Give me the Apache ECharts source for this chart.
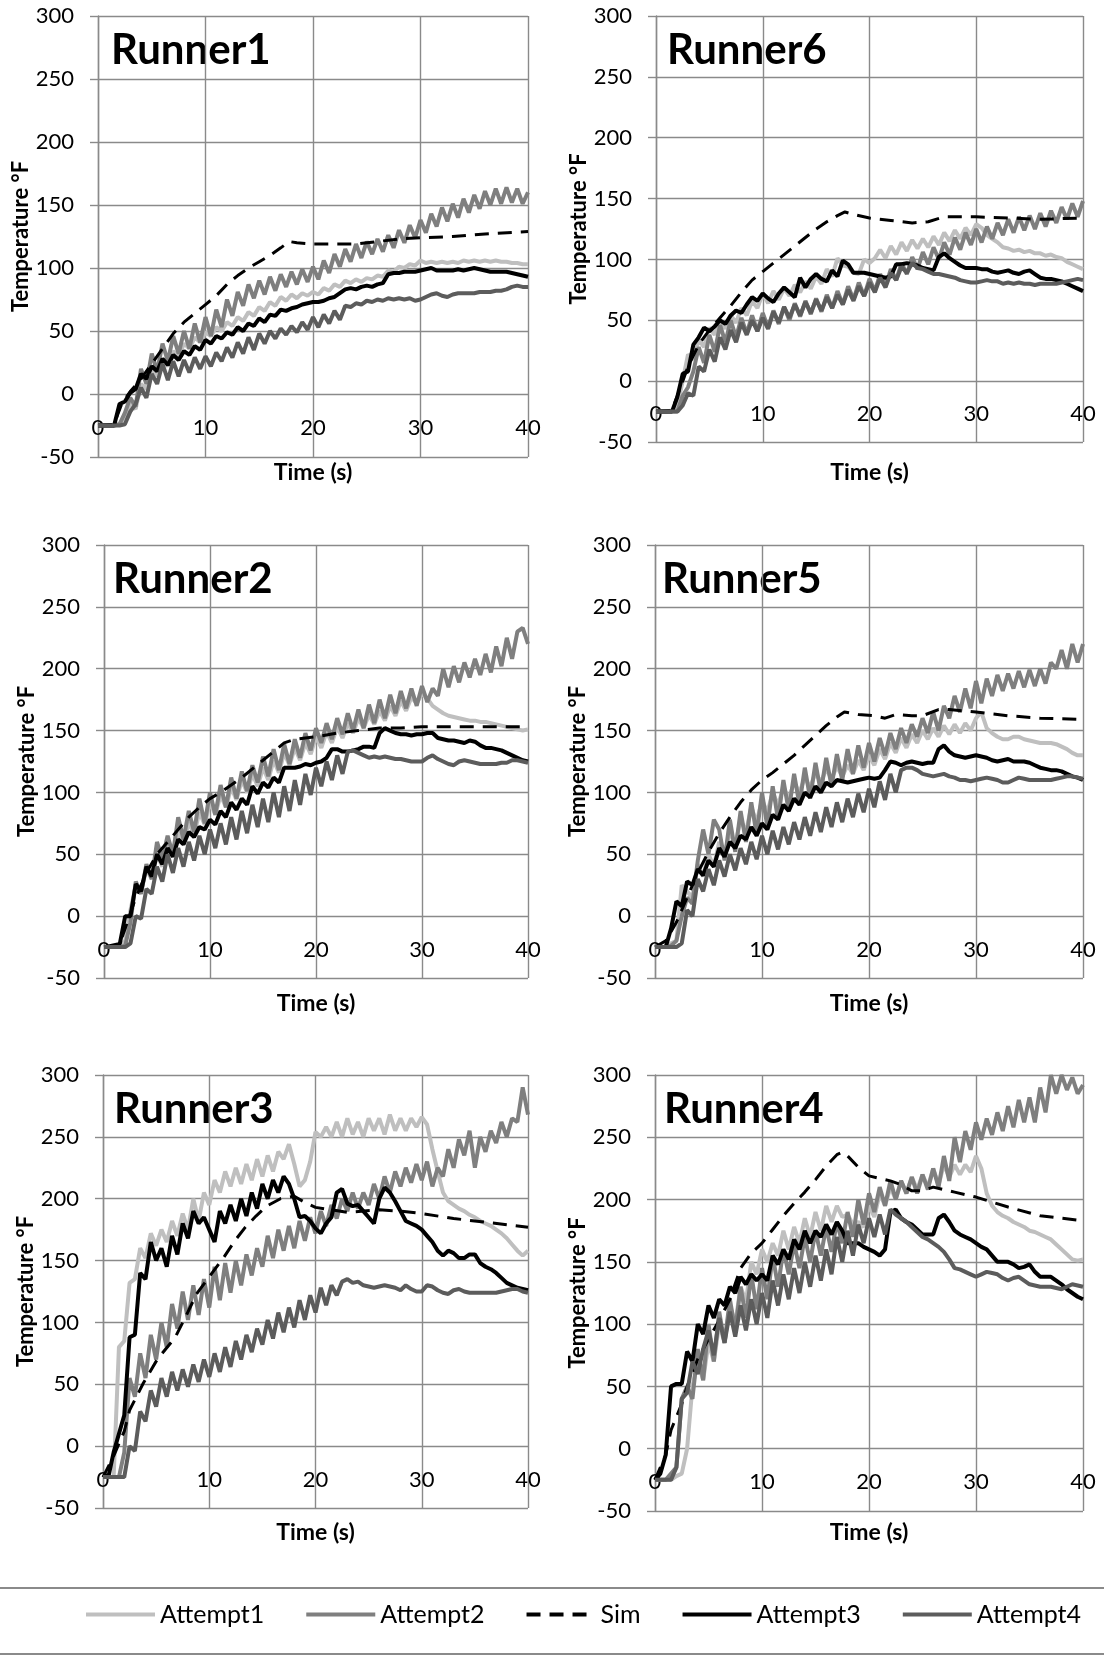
<!DOCTYPE html>
<html>
<head>
<meta charset="utf-8">
<title>Runner temperatures</title>
<script src="https://cdn.jsdelivr.net/npm/echarts@6/dist/echarts.min.js"></script>
<style>
  html, body { margin: 0; padding: 0; background: #ffffff; }
  #chart { width: 1104px; height: 1656px; }
</style>
</head>
<body>
<div id="chart"></div>
<script>
// sample times (s) shared by the measured attempts
const TIME = [
  0, 0.5, 1, 1.5, 2, 2.5, 3, 3.5, 4, 4.5,
  5, 5.5, 6, 6.5, 7, 7.5, 8, 8.5, 9, 9.5,
  10, 10.5, 11, 11.5, 12, 12.5, 13, 13.5, 14, 14.5,
  15, 15.5, 16, 16.5, 17, 17.5, 18, 18.5, 19, 19.5,
  20, 20.5, 21, 21.5, 22, 22.5, 23, 23.5, 24, 24.5,
  25, 25.5, 26, 26.5, 27, 27.5, 28, 28.5, 29, 29.5,
  30, 30.5, 31, 31.5, 32, 32.5, 33, 33.5, 34, 34.5,
  35, 35.5, 36, 36.5, 37, 37.5, 38, 38.5, 39, 39.5,
  40
];
const X_TICKS = [0, 10, 20, 30, 40];
const Y_TICKS = [-50, 0, 50, 100, 150, 200, 250, 300];
const SERIES_NAMES = ["Attempt1", "Attempt2", "Sim", "Attempt3", "Attempt4"];
const TITLES = ["Runner1", "Runner6", "Runner2", "Runner5", "Runner3", "Runner4"];

// Runner1
const r1_a1 = [
  -25, -25, -25, -25, -24, -18, -8, -12, 8, 4,
  20, 14, 28, 22, 34, 30, 40, 36, 45, 41,
  49, 46, 53, 50, 57, 54, 61, 58, 65, 62,
  69, 66, 73, 70, 77, 74, 79, 76, 80, 78,
  81, 79, 84, 82, 87, 85, 90, 88, 91, 89,
  92, 91, 94, 93, 98, 97, 101, 100, 103, 102,
  106, 104, 105, 104, 105, 104, 105, 104, 106, 105,
  106, 105, 106, 105, 106, 105, 105, 104, 104, 103,
  103
];
const r1_a2 = [
  -25, -25, -25, -25, -24, -15, -3, -10, 20, 8,
  32, 18, 40, 26, 46, 32, 50, 36, 56, 41,
  61, 46, 67, 53, 75, 62, 81, 70, 87, 76,
  90, 79, 93, 82, 95, 85, 97, 87, 99, 89,
  101, 91, 106, 96, 111, 101, 115, 105, 119, 108,
  121, 111, 123, 113, 126, 116, 130, 120, 134, 124,
  138, 128, 143, 133, 148, 137, 151, 140, 155, 144,
  158, 147, 161, 150, 163, 151, 164, 152, 163, 151,
  160
];
const r1_sim = [
  [0, -25], [1.5, -24], [2.2, -8], [3, 2], [4, 12], [5, 24], [6, 36], [7, 48],
  [8, 57], [9, 64], [10, 71], [11, 78], [12, 87], [13, 94], [14, 100], [15, 105],
  [16, 110], [17, 116], [17.8, 121], [18.5, 120], [20, 119], [22, 119], [24, 119],
  [26, 121], [28, 123], [30, 124], [33, 125], [36, 127], [40, 129]
];
const r1_a3 = [
  -25, -25, -25, -25, -8, -6, 1, 4, 16, 12,
  22, 18, 28, 23, 31, 27, 34, 31, 38, 35,
  43, 40, 46, 44, 49, 47, 53, 50, 56, 54,
  60, 57, 63, 62, 67, 66, 68, 69, 71, 72,
  73, 73, 74, 76, 77, 80, 83, 84, 83, 85,
  86, 85, 87, 88, 95, 96, 96, 97, 97, 97,
  98, 99, 100, 98, 98, 98, 98, 99, 98, 99,
  100, 99, 98, 97, 97, 97, 97, 96, 95, 94,
  93
];
const r1_a4 = [
  -25, -25, -25, -25, -25, -24, -14, -8, 5, -3,
  16, 8, 24, 11, 26, 14, 27, 17, 29, 20,
  30, 22, 33, 26, 37, 29, 41, 32, 45, 35,
  48, 40, 50, 44, 52, 47, 54, 49, 57, 51,
  61, 53, 63, 56, 66, 59, 70, 69, 72, 71,
  74, 73, 75, 74, 76, 75, 76, 75, 76, 74,
  75, 77, 79, 80, 78, 77, 79, 80, 80, 80,
  80, 81, 81, 81, 82, 82, 83, 85, 86, 85,
  85
];

// Runner6
const r6_a1 = [
  -25, -25, -25, -24, -20, 0, 22, 18, 34, 28,
  44, 38, 50, 43, 54, 48, 60, 54, 66, 60,
  72, 64, 74, 67, 76, 70, 79, 73, 82, 76,
  86, 80, 92, 86, 101, 95, 94, 89, 88, 100,
  97, 101, 108, 101, 111, 104, 114, 107, 116, 109,
  117, 110, 119, 112, 122, 115, 124, 117, 126, 120,
  129, 126, 120, 117, 114, 110, 109, 107, 108, 106,
  107, 105, 105, 103, 104, 102, 101, 98, 96, 94,
  92
];
const r6_a2 = [
  -25, -25, -25, -25, -25, -12, -5, 8, 28, 15,
  38, 24, 46, 32, 50, 36, 52, 39, 54, 41,
  56, 44, 58, 47, 61, 50, 64, 53, 66, 55,
  68, 57, 71, 60, 74, 63, 78, 67, 81, 70,
  84, 74, 88, 78, 92, 83, 97, 88, 102, 92,
  106, 96, 110, 100, 114, 104, 118, 108, 122, 112,
  125, 114, 127, 117, 130, 120, 133, 122, 135, 124,
  136, 125, 138, 127, 140, 130, 143, 133, 146, 135,
  148
];
const r6_sim = [
  [0, -25], [1.5, -24], [2, -12], [2.5, 0], [3, 12], [4, 30], [5, 42], [6, 52],
  [7, 62], [8, 73], [9, 83], [10, 90], [11, 97], [12, 104], [13, 111], [14, 118],
  [15, 125], [16, 131], [17, 136], [17.7, 139], [18.5, 137], [20, 134], [22, 132],
  [24, 130], [25.5, 131], [27, 135], [30, 135], [33, 134], [36, 133], [40, 134]
];
const r6_a3 = [
  -25, -25, -25, -25, -13, 6, 8, 30, 36, 44,
  41, 45, 50, 47, 54, 58, 56, 63, 69, 66,
  72, 68, 65, 72, 77, 73, 69, 85, 77, 84,
  88, 84, 82, 91, 86, 99, 96, 89, 89, 89,
  88, 87, 86, 85, 86, 96, 96, 97, 96, 95,
  93, 92, 91, 102, 105, 101, 98, 95, 93, 93,
  93, 92, 92, 90, 89, 90, 91, 89, 88, 90,
  91, 88, 85, 84, 84, 83, 82, 80, 78, 76,
  74
];
const r6_a4 = [
  -25, -25, -25, -25, -25, -20, -10, -12, 12, 8,
  26, 16, 36, 26, 42, 32, 48, 38, 50, 41,
  52, 43, 57, 48, 61, 52, 63, 54, 65, 56,
  67, 58, 69, 60, 71, 63, 75, 66, 78, 70,
  81, 73, 85, 77, 89, 83, 94, 89, 97, 93,
  92, 90, 88, 88, 87, 86, 85, 83, 82, 81,
  81, 82, 83, 82, 82, 80, 81, 80, 81, 80,
  80, 79, 80, 80, 80, 80, 81, 82, 83, 84,
  83
];

// Runner2
const r2_a1 = [
  -25, -25, -25, -25, -20, 5, 25, 20, 38, 30,
  50, 40, 58, 48, 68, 58, 76, 66, 84, 74,
  92, 82, 98, 88, 104, 94, 110, 100, 115, 105,
  120, 110, 126, 116, 132, 122, 136, 126, 140, 131,
  145, 136, 149, 140, 153, 144, 156, 148, 160, 152,
  163, 155, 166, 158, 170, 162, 174, 166, 177, 172,
  180, 176, 170, 167, 164, 162, 161, 160, 159, 158,
  158, 157, 157, 156, 155, 154, 153, 152, 151, 150,
  151
];
const r2_a2 = [
  -25, -25, -25, -25, -24, -5, 28, 18, 42, 30,
  60, 46, 65, 50, 80, 62, 85, 68, 95, 75,
  100, 82, 106, 88, 112, 95, 117, 101, 122, 108,
  129, 113, 135, 118, 139, 123, 143, 128, 148, 134,
  152, 140, 156, 143, 160, 147, 164, 150, 167, 152,
  171, 156, 175, 160, 179, 164, 182, 168, 184, 170,
  186, 173, 184, 178, 200, 185, 202, 189, 205, 193,
  208, 195, 212, 197, 218, 202, 225, 208, 230, 233,
  220
];
const r2_sim = [
  [0, -25], [1.5, -22], [2, -10], [3, 15], [4, 35], [5, 50], [6, 60], [7, 70],
  [8, 80], [9, 88], [10, 95], [11, 100], [12, 106], [13, 112], [14, 119], [15, 126],
  [16, 133], [17, 140], [18, 143], [19, 144], [20, 145], [22, 148], [24, 150],
  [26, 152], [28, 152], [30, 153], [35, 153], [40, 153]
];
const r2_a3 = [
  -25, -25, -25, -22, 0, 0, 26, 20, 40, 32,
  50, 42, 55, 48, 62, 58, 68, 64, 72, 70,
  78, 74, 85, 80, 92, 86, 95, 90, 105, 99,
  108, 104, 112, 108, 120, 120, 120, 121, 123, 122,
  124, 125, 128, 135, 135, 133, 133, 134, 135, 137,
  137, 136, 148, 152, 150, 148, 147, 147, 146, 147,
  147, 148, 148, 144, 143, 142, 142, 141, 140, 142,
  141, 138, 136, 136, 135, 134, 132, 130, 128, 126,
  125
];
const r2_a4 = [
  -25, -25, -25, -25, -25, -22, 0, -2, 22, 18,
  40, 28, 50, 35, 55, 40, 60, 45, 65, 50,
  70, 55, 75, 58, 80, 62, 85, 67, 90, 72,
  95, 76, 100, 80, 105, 85, 110, 90, 115, 98,
  120, 105, 125, 110, 130, 115, 133, 134, 132, 130,
  128, 129, 128, 129, 128, 127, 127, 126, 125, 125,
  125, 128, 130, 127, 125, 123, 122, 125, 126, 125,
  124, 123, 123, 123, 123, 124, 124, 126, 126, 125,
  124
];

// Runner5
const r5_a1 = [
  -25, -25, -25, -22, -20, 25, 20, 15, 42, 32,
  50, 40, 60, 50, 68, 58, 78, 68, 88, 76,
  94, 84, 100, 90, 104, 95, 108, 100, 112, 104,
  116, 108, 119, 111, 121, 113, 122, 115, 126, 118,
  130, 122, 135, 127, 140, 132, 144, 136, 147, 140,
  150, 143, 152, 145, 154, 147, 155, 148, 156, 150,
  160, 165, 152, 148, 145, 143, 143, 145, 145, 143,
  142, 141, 140, 140, 140, 139, 137, 135, 132, 130,
  130
];
const r5_a2 = [
  -25, -25, -25, -24, -20, 0, 15, 10, 45, 70,
  50, 78, 70, 45, 78, 52, 85, 60, 92, 66,
  100, 72, 105, 78, 110, 85, 115, 90, 120, 95,
  124, 100, 128, 105, 131, 110, 135, 115, 138, 120,
  140, 125, 144, 130, 148, 135, 152, 140, 155, 145,
  160, 148, 165, 150, 170, 160, 178, 165, 184, 168,
  190, 172, 192, 178, 195, 182, 196, 184, 198, 185,
  199, 186, 200, 188, 205, 200, 215, 200, 220, 205,
  220
];
const r5_sim = [
  [0, -25], [1, -20], [2, -5], [3, 15], [4, 35], [5, 52], [6, 67], [7, 80],
  [8, 92], [9, 102], [10, 110], [11, 116], [12, 123], [13, 130], [14, 138], [15, 146],
  [16, 154], [17, 161], [17.7, 165], [19, 163], [20.5, 162], [21.5, 160], [22.5, 163],
  [24, 162], [25, 162], [26.5, 167], [27.5, 167], [30, 165], [33, 162], [36, 160], [40, 159]
];
const r5_a3 = [
  -25, -25, -25, -10, 12, 8, 28, 25, 38, 33,
  45, 40, 55, 48, 60, 55, 65, 62, 72, 65,
  75, 70, 82, 78, 90, 85, 95, 90, 100, 96,
  105, 100, 108, 105, 110, 109, 108, 109, 110, 111,
  112, 111, 112, 118, 125, 124, 122, 124, 125, 124,
  123, 124, 124, 135, 138, 133, 130, 129, 128, 129,
  130, 129, 128, 126, 125, 126, 127, 125, 125, 125,
  124, 122, 120, 119, 118, 118, 117, 115, 113, 112,
  110
];
const r5_a4 = [
  -25, -25, -25, -25, -25, -22, 5, 0, 30, 20,
  38, 25, 45, 32, 50, 37, 55, 42, 60, 46,
  65, 50, 69, 54, 72, 58, 76, 62, 80, 65,
  84, 68, 88, 72, 92, 76, 95, 80, 99, 84,
  103, 88, 109, 94, 115, 100, 118, 120, 120, 118,
  115, 114, 113, 114, 115, 113, 112, 110, 110, 109,
  110, 111, 112, 111, 110, 108, 108, 110, 112, 111,
  110, 110, 110, 110, 110, 111, 112, 113, 113, 112,
  111
];

// Runner3
const r3_a1 = [
  -25, -25, -25, 80, 85, 132, 135, 160, 152, 172,
  162, 175, 165, 182, 170, 188, 175, 200, 182, 205,
  195, 215, 205, 222, 210, 225, 212, 228, 215, 232,
  218, 235, 222, 238, 232, 244, 228, 210, 215, 230,
  254, 250, 258, 250, 262, 250, 265, 252, 262, 250,
  265, 255, 265, 252, 268, 255, 265, 255, 265, 258,
  266, 260, 240, 222, 205, 198, 195, 192, 190, 187,
  185, 182, 180, 178, 175, 172, 168, 163, 158, 154,
  158
];
const r3_a2 = [
  -25, -25, -25, -25, -5, 55, 40, 75, 55, 90,
  70, 100, 80, 115, 95, 125, 102, 130, 106, 135,
  112, 145, 118, 148, 124, 150, 130, 155, 138, 160,
  145, 170, 152, 175, 158, 178, 160, 182, 166, 185,
  172, 190, 178, 195, 184, 200, 190, 205, 192, 205,
  195, 212, 200, 218, 205, 222, 210, 225, 213, 228,
  215, 230, 210, 225, 218, 240, 225, 248, 235, 255,
  225, 250, 238, 255, 245, 262, 250, 265, 262, 290,
  268
];
const r3_sim = [
  [0, -25], [1, -8], [2, 12], [2.5, 29], [3.8, 51], [5.1, 70], [6.8, 88], [7.8, 105],
  [8.8, 123], [10.1, 138], [11.4, 153], [12.4, 166], [13.4, 177], [14.4, 186], [15.4, 194],
  [16.7, 200], [18, 202], [19, 197], [20, 193], [23, 189], [26, 191], [28, 190],
  [30, 188], [33, 184], [36, 181], [40, 177]
];
const r3_a3 = [
  -25, -25, -5, 10, 25, 88, 90, 140, 135, 165,
  150, 160, 145, 170, 155, 180, 168, 190, 180, 185,
  175, 165, 190, 180, 195, 182, 200, 186, 205, 192,
  212, 200, 215, 205, 218, 212, 200, 185, 186, 182,
  176, 172, 180, 185, 205, 208, 196, 194, 195, 190,
  185, 180, 200, 209, 205, 198, 190, 182, 180, 178,
  175, 170, 165, 158, 154, 158, 156, 152, 152, 155,
  155, 148, 145, 143, 140, 136, 132, 130, 128, 127,
  126
];
const r3_a4 = [
  -25, -25, -25, -25, -25, 0, -4, 28, 20, 45,
  32, 55, 40, 60, 45, 62, 48, 66, 52, 70,
  56, 75, 60, 80, 64, 85, 70, 90, 76, 95,
  82, 102, 87, 108, 92, 112, 96, 118, 102, 122,
  108, 128, 114, 130, 122, 133, 135, 132, 133, 130,
  129, 128, 129, 130, 129, 128, 126, 130, 127, 125,
  125, 130, 129, 126, 124, 123, 126, 127, 125, 124,
  124, 124, 124, 124, 124, 125, 126, 127, 127, 125,
  124
];

// Runner4
const r4_a1 = [
  -25, -25, -25, -25, -22, -20, 0, 50, 70, 55,
  85, 70, 100, 85, 115, 100, 130, 118, 150, 140,
  160, 150, 165, 155, 175, 160, 178, 165, 185, 170,
  190, 175, 195, 182, 195, 186, 188, 180, 182, 178,
  195, 186, 205, 195, 210, 200, 215, 205, 218, 208,
  220, 210, 225, 212, 228, 218, 228, 220, 228, 222,
  235, 225, 205, 195, 190, 187, 185, 182, 180, 178,
  175, 174, 172, 170, 168, 164, 160, 156, 152, 151,
  152
];
const r4_a2 = [
  -25, -25, -25, -20, -15, 40, 50, 40, 80, 55,
  100, 70, 110, 85, 120, 95, 130, 105, 140, 112,
  145, 120, 155, 130, 160, 140, 165, 145, 170, 150,
  175, 155, 178, 158, 182, 165, 190, 170, 200, 180,
  205, 190, 210, 195, 215, 200, 215, 205, 218, 205,
  220, 208, 225, 210, 235, 215, 250, 230, 255, 240,
  262, 248, 265, 252, 270, 255, 275, 258, 280, 262,
  282, 262, 290, 270, 300, 285, 300, 288, 298, 285,
  292
];
const r4_sim = [
  [0, -25], [0.5, -15], [1, -5], [1.5, 15], [2.5, 36], [3, 50], [4, 72], [5, 88],
  [6, 103], [7, 120], [8, 145], [9, 157], [10, 165], [11, 176], [12, 187], [13, 197],
  [14, 206], [15, 216], [16, 227], [17, 236], [17.5, 238], [18, 235], [19, 226],
  [20, 219], [21, 217], [22, 215], [23, 212], [24, 207], [25, 207], [26, 210],
  [27, 208], [28, 206], [30, 202], [33, 194], [36, 187], [40, 183]
];
const r4_a3 = [
  -25, -20, -5, 50, 52, 52, 78, 70, 100, 92,
  115, 105, 120, 115, 130, 125, 138, 132, 140, 135,
  140, 135, 155, 148, 160, 152, 168, 160, 175, 165,
  175, 170, 180, 172, 182, 175, 165, 165, 165, 162,
  160, 158, 155, 160, 190, 192, 185, 182, 180, 176,
  172, 172, 172, 185, 188, 182, 175, 172, 170, 168,
  165, 162, 160, 155, 150, 150, 150, 148, 145, 146,
  148, 142, 138, 138, 138, 135, 132, 128, 125, 122,
  120
];
const r4_a4 = [
  -25, -25, -25, -25, -15, 40, 45, 70, 60, 80,
  95, 75, 105, 85, 110, 90, 115, 95, 120, 100,
  125, 105, 135, 115, 140, 120, 145, 125, 150, 130,
  155, 135, 160, 140, 170, 150, 175, 155, 180, 165,
  185, 170, 188, 172, 192, 188, 185, 182, 178, 174,
  170, 168, 165, 162, 158, 152, 145, 144, 142, 140,
  138, 140, 142, 141, 140, 137, 135, 137, 138, 135,
  132, 131, 130, 130, 130, 129, 128, 130, 132, 131,
  130
];

// panel order: left column Runner1/2/3, right column Runner6/5/4
const PANEL_DATA = [
  [r1_a1, r1_a2, r1_sim, r1_a3, r1_a4],
  [r6_a1, r6_a2, r6_sim, r6_a3, r6_a4],
  [r2_a1, r2_a2, r2_sim, r2_a3, r2_a4],
  [r5_a1, r5_a2, r5_sim, r5_a3, r5_a4],
  [r3_a1, r3_a2, r3_sim, r3_a3, r3_a4],
  [r4_a1, r4_a2, r4_sim, r4_a3, r4_a4]
];

// plot boxes [left, top, width, height], title x, y of "Time (s)"
const PANEL_BOX = [
  { rect: [98, 16, 430, 441], titleX: 111, nameY: 473 },
  { rect: [656, 16, 427, 426], titleX: 667, nameY: 473 },
  { rect: [104, 545, 424, 433], titleX: 113, nameY: 1004 },
  { rect: [655, 545, 428, 433], titleX: 662, nameY: 1004 },
  { rect: [103, 1075, 425, 433], titleX: 114, nameY: 1533 },
  { rect: [655, 1075, 428, 436], titleX: 664, nameY: 1533 }
];

const FONT = 'Lato, "Open Sans", sans-serif';
const GRID_COLOR = "#8a8a8a";
const LINE_STYLES = [
  { color: "#bfbfbf", width: 4, type: "solid" },
  { color: "#7f7f7f", width: 4, type: "solid" },
  { color: "#000000", width: 3, type: [14, 9] },
  { color: "#000000", width: 4, type: "solid" },
  { color: "#5c5c5c", width: 4, type: "solid" }
];

let grid = [];
let xAxis = [];
let yAxis = [];
let series = [];
let graphic = [];

PANEL_BOX.forEach(function (box, i) {
  let [left, top, width, height] = box.rect;
  let ppu = height / (Y_TICKS[Y_TICKS.length - 1] - Y_TICKS[0]);
  // x tick labels sit inside the plot, about 23 units above the bottom
  let labelLift = 23 * ppu;
  grid.push({ left: left, top: top, width: width, height: height, outerBoundsMode: "none" });
  xAxis.push({
    type: "value",
    gridIndex: i,
    min: X_TICKS[0],
    max: X_TICKS[X_TICKS.length - 1],
    interval: X_TICKS[1] - X_TICKS[0],
    offset: -labelLift,
    axisLine: { show: false },
    axisTick: { show: false },
    axisLabel: { margin: 0, verticalAlign: "middle", fontFamily: FONT, fontSize: 22, color: "#000" },
    splitLine: { show: true, lineStyle: { color: GRID_COLOR, width: 1.4 } },
    name: "Time (s)",
    nameLocation: "middle",
    nameGap: box.nameY - (top + height - labelLift),
    nameTextStyle: { fontFamily: FONT, fontSize: 23, fontWeight: "bold", color: "#000", verticalAlign: "middle" }
  });
  yAxis.push({
    type: "value",
    gridIndex: i,
    min: Y_TICKS[0],
    max: Y_TICKS[Y_TICKS.length - 1],
    interval: Y_TICKS[1] - Y_TICKS[0],
    axisLine: { show: true, lineStyle: { color: GRID_COLOR, width: 1.4 } },
    axisTick: { show: true, length: 8, lineStyle: { color: GRID_COLOR, width: 1.4 } },
    axisLabel: { margin: 24, fontFamily: FONT, fontSize: 22, color: "#000" },
    splitLine: { show: true, lineStyle: { color: GRID_COLOR, width: 1.4 } },
    name: "Temperature °F",
    nameLocation: "middle",
    nameGap: 77,
    nameTextStyle: { fontFamily: FONT, fontSize: 22, fontWeight: "bold", color: "#000", verticalAlign: "middle" }
  });

  PANEL_DATA[i].forEach(function (vals, k) {
    let st = LINE_STYLES[k];
    let data = SERIES_NAMES[k] === "Sim"
      ? vals
      : TIME.map(function (t, j) { return [t, vals[j]]; });
    series.push({
      name: SERIES_NAMES[k],
      type: "line",
      xAxisIndex: i,
      yAxisIndex: i,
      data: data,
      symbol: "none",
      showSymbol: false,
      itemStyle: { color: st.color },
      lineStyle: { color: st.color, width: st.width, type: st.type },
      z: 2 + k
    });
  });

  graphic.push({
    type: "text",
    x: box.titleX,
    y: top + 34,
    style: {
      text: TITLES[i],
      fontFamily: FONT,
      fontSize: 42,
      fontWeight: "bold",
      fill: "#000",
      verticalAlign: "middle"
    }
  });
});

// rules above and below the legend
graphic.push({ type: "line", shape: { x1: 0, y1: 1588, x2: 1104, y2: 1588 }, style: { stroke: GRID_COLOR, lineWidth: 2 } });
graphic.push({ type: "line", shape: { x1: 0, y1: 1654, x2: 1104, y2: 1654 }, style: { stroke: GRID_COLOR, lineWidth: 2 } });

let myChart = echarts.init(document.getElementById("chart"), null, { renderer: "canvas" });
let option = {
  animation: false,
  backgroundColor: "#ffffff",
  grid: grid,
  xAxis: xAxis,
  yAxis: yAxis,
  legend: {
    data: SERIES_NAMES,
    left: 79,
    top: 1597,
    itemWidth: 69,
    itemHeight: 14,
    itemGap: 40,
    selectedMode: false,
    itemStyle: { opacity: 0 },
    lineStyle: { width: 4 },
    textStyle: { fontFamily: FONT, fontSize: 25, color: "#000" }
  },
  graphic: graphic,
  series: series
};
myChart.setOption(option, true);
</script>
</body>
</html>
